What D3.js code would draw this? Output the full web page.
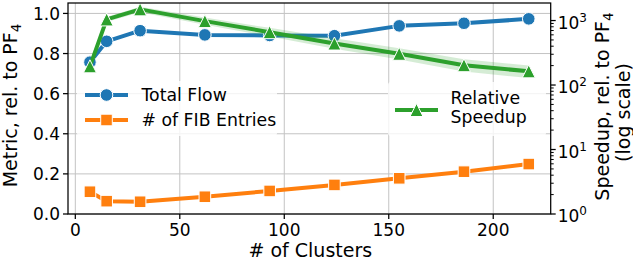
<!DOCTYPE html>
<head>
  <meta charset="utf-8">
  <title>clusters</title>
  <style>
    body { margin: 0; background: #fff; }
    text { font-family: "DejaVu Sans", sans-serif; fill: #000; }
  </style>
</head>

<script src="https://cdn.jsdelivr.net/npm/d3@7"></script>

<div id="my_dataviz"></div>

<script>

  // data
  const clusters = [7, 15, 31, 62, 93, 124, 155, 186, 217];
  const totalFlow = [0.757, 0.861, 0.914, 0.893, 0.890, 0.889, 0.938, 0.951, 0.973];
  const fibEntries = [0.111, 0.064, 0.061, 0.086, 0.115, 0.145, 0.178, 0.211, 0.249];
  const speedup = [195, 1040, 1490, 980, 660, 440, 305, 203, 163];
  const speedupLo = [178, 950, 1350, 860, 565, 365, 248, 162, 128];
  const speedupHi = [212, 1130, 1630, 1110, 770, 530, 372, 250, 200];
  const xTicks = [0, 50, 100, 150, 200];
  const yTicks = [0, 0.2, 0.4, 0.6, 0.8, 1.0];
  const logTicks = [1, 10, 100, 1000];

  const W = 633, H = 264;
  const margin = {top: 3, right: 82.3, bottom: 50, left: 68},
      width = W - margin.left - margin.right,
      height = H - margin.top - margin.bottom;

  const blue = "#1f77b4", orange = "#ff7f0e", green = "#2ca02c";

  const svg = d3.select("#my_dataviz")
    .append("svg")
      .attr("width", W)
      .attr("height", H)
    .append("g")
      .attr("transform", `translate(${margin.left},${margin.top})`);

  const x = d3.scaleLinear().domain([-3.5, 227.5]).range([0, width]);
  const y = d3.scaleLinear().domain([0, 1.052]).range([height, 0]);
  const y2 = d3.scaleLog().domain([1, 1870]).range([height, 0]);

  // grid
  const grid = svg.append("g").attr("stroke", "#b0b0b0").attr("stroke-width", 1).attr("opacity", 0.75);
  grid.selectAll(".gx").data(xTicks).join("line")
    .attr("x1", d => x(d)).attr("x2", d => x(d)).attr("y1", 0).attr("y2", height);
  grid.selectAll(".gy").data(yTicks).join("line")
    .attr("y1", d => y(d)).attr("y2", d => y(d)).attr("x1", 0).attr("x2", width);

  // markers
  function marker(g, shape, color, s) {
    if (shape == "circle") {
      g.append("circle").attr("r", s).attr("fill", color).attr("stroke", "#fff").attr("stroke-width", 1);
    } else if (shape == "square") {
      g.append("rect").attr("x", -s).attr("y", -s).attr("width", 2 * s).attr("height", 2 * s)
        .attr("fill", color).attr("stroke", "#fff").attr("stroke-width", 1);
    } else {
      g.append("path").attr("d", `M0,${-s}L${-s},${s}L${s},${s}Z`)
        .attr("fill", color).attr("stroke", "#fff").attr("stroke-width", 1);
    }
  }

  function series(vals, yScale, color, shape, s) {
    const g = svg.append("g");
    g.append("path")
      .datum(clusters.map((c, i) => [c, vals[i]]))
      .attr("fill", "none").attr("stroke", color).attr("stroke-width", 4)
      .attr("stroke-linejoin", "round").attr("stroke-linecap", "round")
      .attr("d", d3.line().x(d => x(d[0])).y(d => yScale(d[1])));
    clusters.forEach((c, i) => {
      const m = g.append("g").attr("transform", `translate(${x(c)},${yScale(vals[i])})`);
      marker(m, shape, color, s);
    });
  }

  function legendItem(g, lx, ly, color, shape, s) {
    g.append("line").attr("x1", lx).attr("x2", lx + 43).attr("y1", ly).attr("y2", ly)
      .attr("stroke", color).attr("stroke-width", 4);
    marker(g.append("g").attr("transform", `translate(${lx + 21.5},${ly})`), shape, color, s);
  }

  // left axis series
  series(fibEntries, y, orange, "square", 5.8);
  series(totalFlow, y, blue, "circle", 6.3);

  // left legend
  const leg1 = svg.append("g");
  leg1.append("rect").attr("x", 9).attr("y", 78).attr("width", 200).attr("height", 55)
    .attr("rx", 3).attr("fill", "#fff").attr("opacity", 0.8);
  legendItem(leg1, 17, 92, blue, "circle", 6.3);
  legendItem(leg1, 17, 117, orange, "square", 5.8);
  leg1.append("text").attr("x", 73.5).attr("y", 98).attr("font-size", 17.3).text("Total Flow");
  leg1.append("text").attr("x", 73.5).attr("y", 123).attr("font-size", 17.3).text("# of FIB Entries");

  // right axis series with band
  svg.append("path")
    .datum(clusters.map((c, i) => [c, speedupLo[i], speedupHi[i]]))
    .attr("fill", green).attr("opacity", 0.2)
    .attr("d", d3.area().x(d => x(d[0])).y0(d => y2(d[1])).y1(d => y2(d[2])));
  series(speedup, y2, green, "triangle", 6.5);

  // right legend
  const leg2 = svg.append("g");
  leg2.append("rect").attr("x", 320).attr("y", 79).attr("width", 158).attr("height", 54)
    .attr("rx", 3).attr("fill", "#fff").attr("opacity", 0.8);
  legendItem(leg2, 327, 107, green, "triangle", 6.5);
  leg2.append("text").attr("x", 382.5).attr("y", 101).attr("font-size", 17.3).text("Relative");
  leg2.append("text").attr("x", 382.5).attr("y", 120).attr("font-size", 17.3).text("Speedup");

  // spines
  svg.append("rect").attr("width", width).attr("height", height)
    .attr("fill", "none").attr("stroke", "#000").attr("stroke-width", 1.25);

  // x axis
  const gx = svg.append("g").attr("transform", `translate(0,${height})`);
  gx.selectAll("line").data(xTicks).join("line")
    .attr("x1", d => x(d)).attr("x2", d => x(d)).attr("y1", 0).attr("y2", 5)
    .attr("stroke", "#000").attr("stroke-width", 1.25);
  gx.selectAll("text").data(xTicks).join("text")
    .attr("x", d => x(d)).attr("y", 21.5).attr("text-anchor", "middle").attr("font-size", 17)
    .text(d => d);

  // left axis
  const gy = svg.append("g");
  gy.selectAll("line").data(yTicks).join("line")
    .attr("y1", d => y(d)).attr("y2", d => y(d)).attr("x1", -5).attr("x2", 0)
    .attr("stroke", "#000").attr("stroke-width", 1.25);
  gy.selectAll("text").data(yTicks).join("text")
    .attr("x", -8).attr("y", d => y(d) + 6.2).attr("text-anchor", "end").attr("font-size", 17)
    .text(d => d.toFixed(1));

  // right log axis
  const gr = svg.append("g").attr("transform", `translate(${width},0)`);
  const minor = [];
  [1, 10, 100, 1000].forEach(dec => {
    for (let k = 2; k <= 9; k++) if (dec * k <= 1870) minor.push(dec * k);
  });
  gr.selectAll(".mn").data(minor).join("line")
    .attr("y1", d => y2(d)).attr("y2", d => y2(d)).attr("x1", 0).attr("x2", 3)
    .attr("stroke", "#000").attr("stroke-width", 1);
  gr.selectAll(".mj").data(logTicks).join("line")
    .attr("y1", d => y2(d)).attr("y2", d => y2(d)).attr("x1", 0).attr("x2", 5)
    .attr("stroke", "#000").attr("stroke-width", 1.25);
  logTicks.forEach(d => {
    const t = gr.append("text").attr("x", 7).attr("y", y2(d) + 8).attr("font-size", 17);
    t.append("tspan").text("10");
    t.append("tspan").attr("dy", -7).attr("font-size", 12).text(Math.round(Math.log10(d)));
  });

  // axis labels
  svg.append("text").attr("x", width / 2 + 1).attr("y", height + 43)
    .attr("text-anchor", "middle").attr("font-size", 19).text("# of Clusters");

  const ylab = svg.append("text")
    .attr("transform", `translate(${-51},${height / 2 - 3}) rotate(-90)`)
    .attr("text-anchor", "middle").attr("font-size", 19);
  ylab.append("tspan").text("Metric, rel. to PF");
  ylab.append("tspan").attr("dy", 4).attr("font-size", 13.5).text("4");

  const rlab = svg.append("text")
    .attr("transform", `translate(${width + 58},${height / 2 - 2}) rotate(-90)`)
    .attr("text-anchor", "middle").attr("font-size", 19);
  rlab.append("tspan").text("Speedup, rel. to PF");
  rlab.append("tspan").attr("dy", 4).attr("font-size", 13.5).text("4");
  svg.append("text")
    .attr("transform", `translate(${width + 79},${height / 2 + 4}) rotate(-90)`)
    .attr("text-anchor", "middle").attr("font-size", 19).text("(log scale)");

</script>
